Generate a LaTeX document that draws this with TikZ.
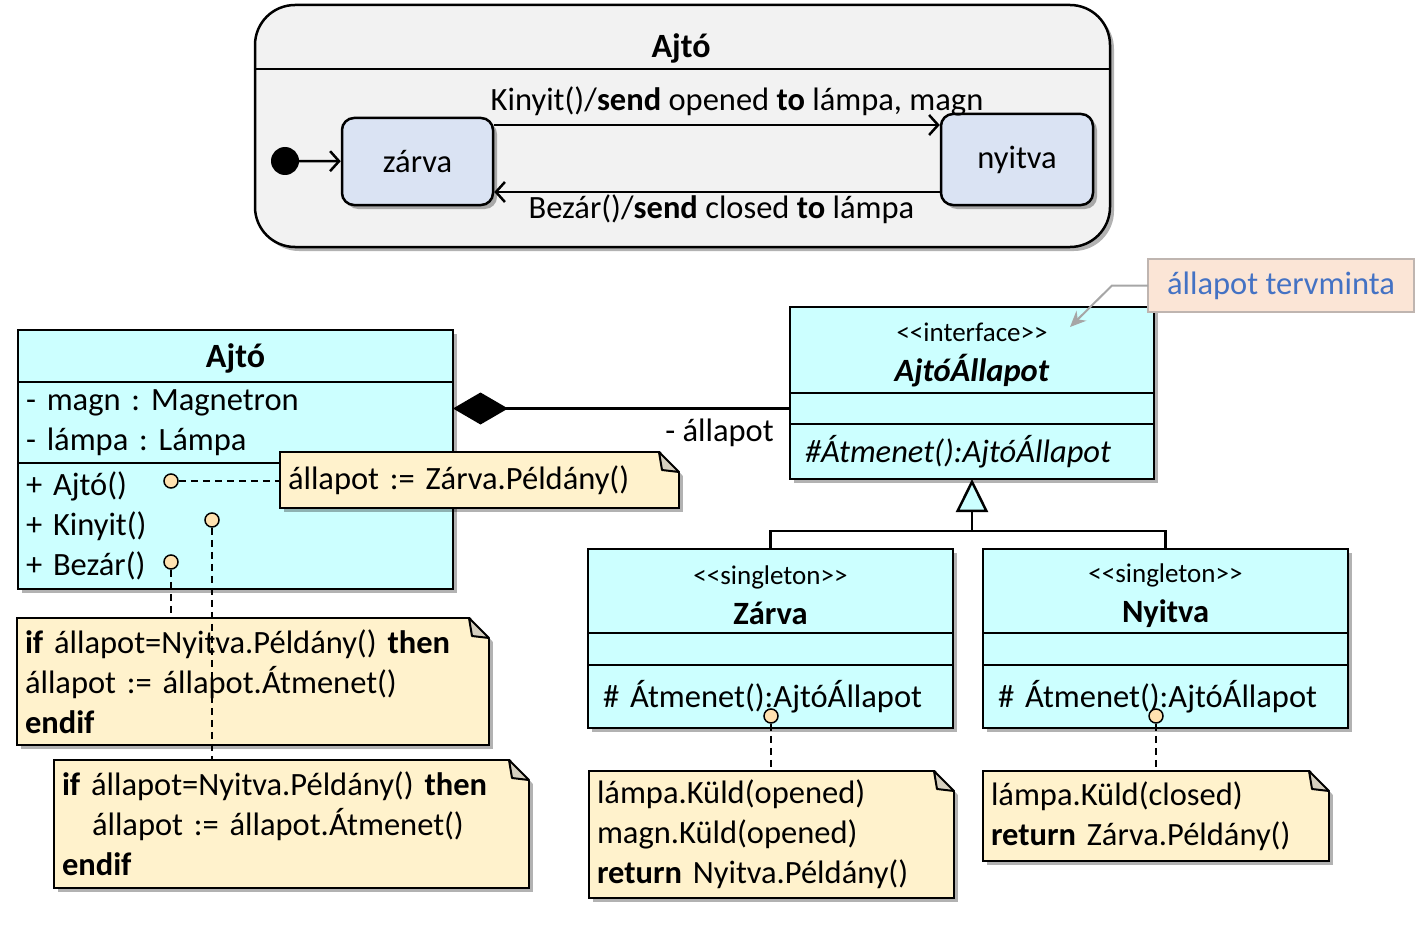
\documentclass[tikz,border=0pt]{standalone}
\usepackage{fontspec}
\setmainfont{Carlito}
\usepackage{tikz}
\usetikzlibrary{arrows.meta,positioning,shadows}
\usepackage{xcolor}
\frenchspacing

\definecolor{klassefarbe}{HTML}{CCFFFF}
\definecolor{notizfarbe}{HTML}{FFF2CC}
\definecolor{knickfarbe}{HTML}{D5CFBF}
\definecolor{ankerfarbe}{HTML}{FFE2B0}
\definecolor{zustandfarbe}{HTML}{DAE3F3}
\definecolor{rahmenfarbe}{HTML}{F2F2F2}
\definecolor{hinweisfarbe}{HTML}{FBE5D6}
\definecolor{hinweisrand}{HTML}{BFB5B0}
\definecolor{blautext}{HTML}{4472C4}

\newcommand{\stereo}{\fontsize{27}{32}\selectfont}
\newcommand{\titel}{\fontsize{34}{40}\selectfont}
\newcommand{\sterotyp}[1]{{\stereo <\kern0pt<#1>\kern0pt>}}

% Eselsohr oben rechts an einer Notiz
\newcommand{\eselsohr}[1]{%
  \fill[white] ([xshift=-20pt,yshift=2pt]#1.north east) -- ([xshift=6pt,yshift=2pt]#1.north east)
    -- ([xshift=6pt,yshift=-26pt]#1.north east) -- cycle;
  \draw[line width=2pt, line join=round, fill=knickfarbe] ([xshift=-20pt]#1.north east)
    -- ([xshift=-17pt,yshift=-18pt]#1.north east) -- ([yshift=-20pt]#1.north east) -- cycle;}

\begin{document}
\begin{tikzpicture}[
    x=1pt, y=-1pt,
    font=\fontsize{32.5}{40}\selectfont,
    schatten/.style={drop shadow={shadow xshift=4pt, shadow yshift=-4pt, opacity=0.3, fill=black}},
    fach/.style={draw, line width=2.5pt, fill=klassefarbe, outer sep=0pt, inner sep=0pt, schatten},
    zustand/.style={draw, line width=2.5pt, rounded corners=12pt, fill=zustandfarbe, schatten},
    notiz/.style={draw, line width=2pt, fill=notizfarbe, outer sep=0pt, inner xsep=8pt,
      align=left, anchor=north west, schatten},
    anker/.style={circle, draw, line width=1.5pt, fill=ankerfarbe, minimum size=14pt, inner sep=0pt},
    zpfeil/.style={line width=2.5pt, -{Straight Barb[length=9pt,width=20pt]}},
    verbind/.style={line width=2pt, dash pattern=on 7pt off 5pt}
  ]
  \useasboundingbox (0,0) rectangle (1423,928);

  % Zustandsautomat
  \node[draw, line width=2.5pt, rounded corners=40pt, fill=rahmenfarbe, schatten, outer sep=0pt,
    minimum width=855pt, minimum height=242pt, anchor=north west] (automat) at (255,5) {};
  \node[font=\bfseries\titel] (automatname) at (681,48) {Ajtó};
  \draw[line width=2.5pt] (automat.west |- 0,69) -- (automat.east |- 0,69);
  \node[zustand, minimum width=151pt, minimum height=87pt] (zarva) at (417.5,161.5) {zárva};
  \node[zustand, minimum width=152pt, minimum height=91pt] (nyitva) at (1017,159.5) {nyitva};
  \node[circle, fill=black, minimum size=28pt, inner sep=0pt] (start) at (285,161) {};
  \draw[zpfeil] (start) -- (zarva);
  \draw[zpfeil] (zarva.east |- 0,125) -- node[pos=0.545, above, yshift=4pt]
    {Kinyit()/\textbf{send} opened \textbf{to} lámpa, magn} (nyitva.west |- 0,125);
  \draw[zpfeil] (nyitva.west |- 0,192) -- node[pos=0.49, below, inner sep=1pt]
    {Bezár()/\textbf{send} closed \textbf{to} lámpa} (zarva.east |- 0,192);

  % Klasse Ajto
  \node[fach, minimum width=435pt, minimum height=52pt, anchor=north west, font=\bfseries\titel]
    (ajtoname) at (18,330) {Ajtó\rule{0pt}{28pt}};
  \node[fach, minimum width=435pt, minimum height=81pt, below=0pt of ajtoname,
    align=left, text width=419pt, inner xsep=8pt] (ajtoattr) {- magn : Magnetron\\- lámpa : Lámpa};
  \node[fach, minimum width=435pt, minimum height=126pt, below=0pt of ajtoattr,
    align=left, text width=419pt, inner xsep=8pt] (ajtoops) {+ Ajtó()\\+ Kinyit()\\+ Bezár()};
  \node[anker] (ankerkonstr) at (171,481) {};
  \node[anker] (ankerkinyit) at (212,520) {};
  \node[anker] (ankerbezar) at (171,562) {};

  % Interface AjtoAllapot
  \node[fach, minimum width=364pt, minimum height=86pt, anchor=north west, align=center]
    (ifname) at (790,307) {\rule{0pt}{28pt}\sterotyp{interface}\\\textbf{\textit{AjtóÁllapot}}};
  \node[fach, minimum width=364pt, minimum height=31pt, below=0pt of ifname] (ifleer) {};
  \node[fach, minimum width=364pt, minimum height=55pt, below=0pt of ifleer,
    align=left, text width=334pt, inner xsep=15pt] (ifops) {\textit{\#Átmenet():AjtóÁllapot}};

  % Singletons
  \foreach \n/\t/\x in {zname/Zárva/588, nname/Nyitva/983}{
    \node[fach, minimum width=365pt, minimum height=84pt, anchor=north west, align=center]
      (\n) at (\x,549) {\rule{0pt}{28pt}\sterotyp{singleton}\\\textbf{\t}};
    \node[fach, minimum width=365pt, minimum height=32pt, below=0pt of \n] (\n leer) {};
    \node[fach, minimum width=365pt, minimum height=63pt, below=0pt of \n leer,
      align=left, text width=335pt, inner xsep=15pt] (\n ops) {\# Átmenet():AjtóÁllapot};
  }
  \node[anker] (ankerzarva) at (771,716) {};
  \node[anker] (ankernyitva) at (1156,716) {};

  % Kompositon und Vererbung
  \draw[line width=2.5pt, {Diamond[length=55pt,width=32pt]}-] (ajtoattr.east |- ifleer.west) -- (ifleer.west);
  \node[below left=10pt and 16pt of ifleer.west, inner sep=0pt] (rolle) {- állapot};
  \coordinate (knoten) at ([yshift=-52pt]ifops.south);
  \draw[line width=2.5pt, -{Triangle[length=33pt,width=32pt,fill=klassefarbe]}] (knoten) -- (ifops.south);
  \draw[line width=2.5pt] (zname.north) |- (knoten) -| (nname.north);

  % Hinweis
  \node[draw=hinweisrand, line width=1.5pt, fill=hinweisfarbe, text=blautext, outer sep=0pt,
    minimum width=266pt, minimum height=53pt, anchor=north west] (hinweis) at (1148,259) {állapot tervminta};
  \coordinate (hinweisziel) at (1070,327);
  \draw[black!35, line width=2pt, -{Stealth[length=16pt,width=14pt]}] (hinweis.west) -- ++(-36,0) -- (hinweisziel);

  % Notizen
  \node[notiz, text width=383pt, minimum height=56pt] (notizkonstr) at (280,452) {állapot := Zárva.Példány()};
  \eselsohr{notizkonstr}
  \draw[verbind] (ankerkonstr) -- (ankerkonstr -| notizkonstr.west);
  \node[notiz, text width=456pt, minimum height=127pt] (notizbezar) at (17,618)
    {\textbf{if} állapot=Nyitva.Példány() \textbf{then}\\állapot := állapot.Átmenet()\\\textbf{endif}};
  \eselsohr{notizbezar}
  \draw[verbind] (ankerbezar) -- (ankerbezar |- notizbezar.north);
  \node[notiz, text width=459pt, minimum height=128pt] (notizkinyit) at (54,760)
    {\textbf{if} állapot=Nyitva.Példány() \textbf{then}\\\hspace*{30pt}állapot := állapot.Átmenet()\\\textbf{endif}};
  \eselsohr{notizkinyit}
  \draw[verbind] (ankerkinyit) -- (ankerkinyit |- notizkinyit.north);
  \node[notiz, text width=349pt, minimum height=127pt] (notizzarva) at (589,771)
    {lámpa.Küld(opened)\\magn.Küld(opened)\\\textbf{return} Nyitva.Példány()};
  \eselsohr{notizzarva}
  \draw[verbind] (ankerzarva) -- (ankerzarva |- notizzarva.north);
  \node[notiz, text width=330pt, minimum height=90pt] (notiznyitva) at (983,771)
    {lámpa.Küld(closed)\\\textbf{return} Zárva.Példány()};
  \eselsohr{notiznyitva}
  \draw[verbind] (ankernyitva) -- (ankernyitva |- notiznyitva.north);
\end{tikzpicture}
\end{document}
